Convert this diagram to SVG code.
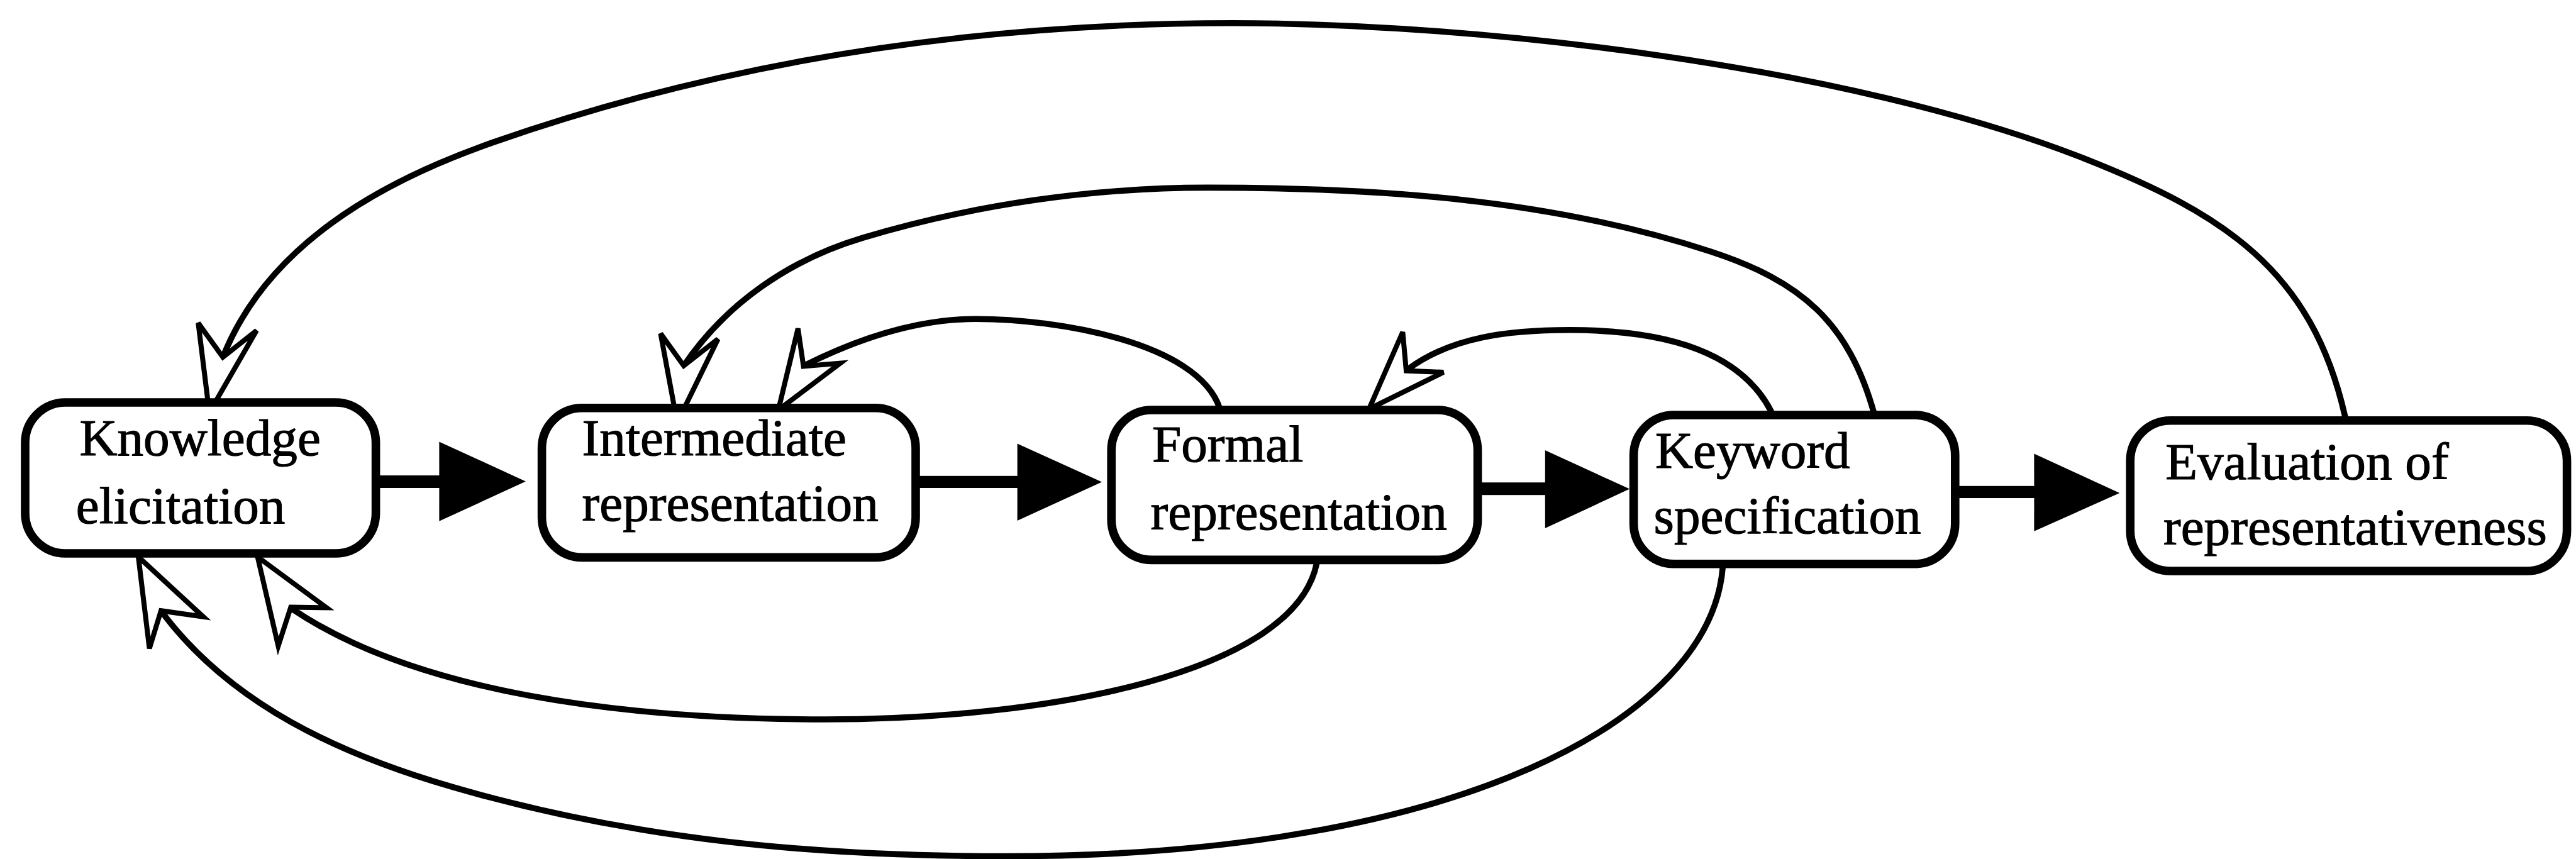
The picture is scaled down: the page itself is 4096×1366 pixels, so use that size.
<svg xmlns="http://www.w3.org/2000/svg" width="4096" height="1366" viewBox="0 0 4096 1366">
  <style>
    .box { fill: #ffffff; stroke: #000000; stroke-width: 17; }
    .label { font-family: "Liberation Serif", "Times New Roman", serif; font-size: 104px; fill: #000000; stroke: #000000; stroke-width: 1.5; }
    .flow { fill: #000000; stroke: none; }
    .loop { fill: none; stroke: #000000; stroke-width: 12; stroke-linecap: round; }
    .dart { fill: #ffffff; stroke: #000000; stroke-width: 10; stroke-linejoin: miter; }
  </style>
  <rect x="0" y="0" width="4096" height="1366" fill="#ffffff"/>
  <g transform="scale(0.8)">
    <!-- feedback loops -->
    <g id="connectors">
      <!-- Evaluation of representativeness -> Knowledge elicitation -->
      <path class="loop" d="M4661,828 C4595,536 4419,424 4140,314 C3675,132 2950,46 2450,46 C1950,46 1452,118 980,283 C754,362 531,488 443,710"/>
      <polygon class="dart" points="416,820 394,642 443,710 510,657"/>
      <!-- Keyword specification -> Intermediate representation -->
      <path class="loop" d="M3725,822 C3674,640 3580,559 3400,500 C3077,394 2730,373 2400,373 C2170,373 1934,407 1714,473 C1570,516 1443,603 1359,727"/>
      <polygon class="dart" points="1346,840 1313,663 1359,727 1427,674"/>
      <!-- Formal representation -> Intermediate representation -->
      <path class="loop" d="M2424,811 C2380,680 2100,634 1940,634 C1820,634 1704,674 1600,726"/>
      <polygon class="dart" points="1547,815 1586,653 1597,728 1670,722"/>
      <!-- Keyword specification -> Formal representation -->
      <path class="loop" d="M3521,819 C3462,703 3320,656 3120,656 C3000,656 2885,669 2797,735"/>
      <polygon class="dart" points="2721,813 2788,660 2795,737 2869,740"/>
      <!-- Formal representation -> Knowledge elicitation -->
      <path class="loop" d="M2617,1120 C2573,1336 2090,1430 1640,1430 C1240,1430 829,1378 580,1210"/>
      <polygon class="dart" points="512,1107 553,1284 578,1207 649,1208"/>
      <!-- Keyword specification -> Knowledge elicitation -->
      <path class="loop" d="M3424,1128 C3400,1428 2900,1702 2000,1702 C1620,1702 1263,1670 898,1564 C677,1500 460,1401 322,1217"/>
      <polygon class="dart" points="275,1107 297,1289 320,1214 404,1226"/>
      <!-- main flow arrows -->
      <rect class="flow" x="752" y="945" width="126" height="25"/>
      <polygon class="flow" points="873,878 1045,957 873,1036"/>
      <rect class="flow" x="1825" y="946" width="200" height="24"/>
      <polygon class="flow" points="2022,882 2190,958 2022,1035"/>
      <rect class="flow" x="2942" y="959" width="133" height="25"/>
      <polygon class="flow" points="3071,895 3239,972 3071,1050"/>
      <rect class="flow" x="3891" y="966" width="156" height="24"/>
      <polygon class="flow" points="4043,902 4213,980 4043,1056"/>
    </g>

    <g id="knowledge-elicitation">
      <rect class="box" x="50" y="800" width="697" height="300" rx="80" ry="80"/>
      <text class="label" x="158" y="905">Knowledge</text>
      <text class="label" x="151" y="1040">elicitation</text>
    </g>
    <g id="intermediate-representation">
      <rect class="box" x="1077" y="811" width="743" height="297" rx="80" ry="80"/>
      <text class="label" x="1157" y="905">Intermediate</text>
      <text class="label" x="1157" y="1035">representation</text>
    </g>
    <g id="formal-representation">
      <rect class="box" x="2209" y="815" width="728" height="298" rx="80" ry="80"/>
      <text class="label" x="2290" y="918">Formal</text>
      <text class="label" x="2287" y="1052">representation</text>
    </g>
    <g id="keyword-specification">
      <rect class="box" x="3247" y="825" width="639" height="296" rx="80" ry="80"/>
      <text class="label" x="3290" y="930">Keyword</text>
      <text class="label" x="3287" y="1060">specification</text>
    </g>
    <g id="evaluation-of-representativeness">
      <rect class="box" x="4234" y="836" width="868" height="299" rx="80" ry="80"/>
      <text class="label" x="4304" y="953">Evaluation of</text>
      <text class="label" x="4300" y="1082">representativeness</text>
    </g>
  </g>
</svg>
